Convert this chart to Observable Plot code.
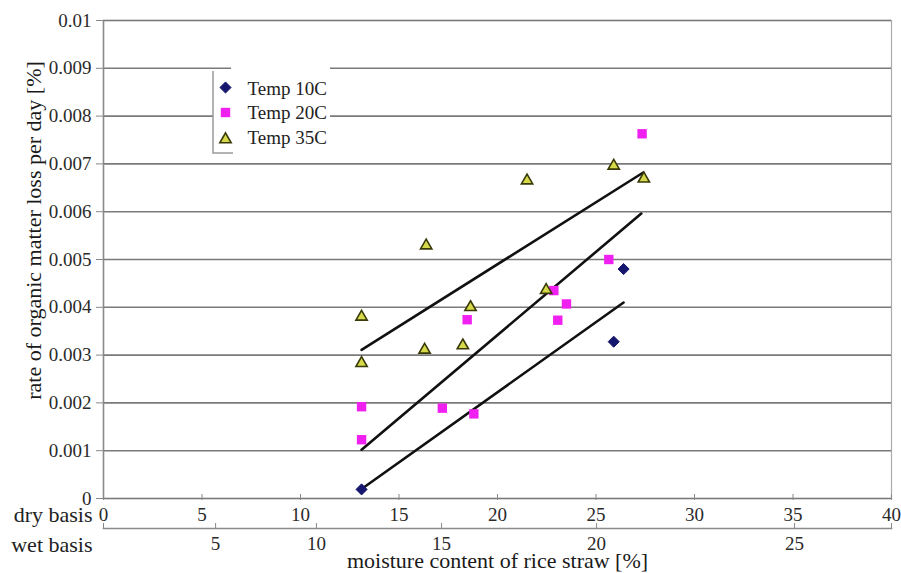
<!DOCTYPE html>
<html><head><meta charset="utf-8">
<script src="https://cdn.jsdelivr.net/npm/d3@7"></script>
<script src="https://cdn.jsdelivr.net/npm/@observablehq/plot@0.6"></script>
<style>
body{margin:0;background:#fff}
#chart{width:901px;height:573px}
#chart svg, #chart svg text{font-family:"Liberation Serif","Tinos","Times New Roman","Times","DejaVu Serif",serif !important;}
</style>
</head><body><div id="chart"></div>
<script>
// ---- data ----
const series = ["Temp 10C", "Temp 20C", "Temp 35C"];

const t10x = [13.1, 25.9, 26.4];
const t10y = [0.00019, 0.00328, 0.0048];

const t20x = [13.1, 13.1, 17.2, 18.8, 18.46, 22.86, 23.5, 23.06, 25.65, 27.34];
const t20y = [0.00192, 0.00123, 0.00189, 0.00177, 0.00374, 0.00435, 0.00407, 0.00373, 0.0050, 0.00763];

const t35x = [13.1, 13.1, 16.38, 16.3, 18.24, 18.63, 22.47, 21.5, 25.9, 27.43];
const t35y = [0.0038, 0.00283, 0.00529, 0.00311, 0.0032, 0.0040, 0.00436, 0.00665, 0.00696, 0.00669];

// fitted trend lines (end points)
const fit10x = [13.1, 26.4], fit10y = [0.0002, 0.0041];
const fit20x = [13.1, 27.3], fit20y = [0.00102, 0.00596];
const fit35x = [13.1, 27.4], fit35y = [0.00311, 0.00682];

const yTicks = [0, 0.001, 0.002, 0.003, 0.004, 0.005, 0.006, 0.007, 0.008, 0.009, 0.01];
const dryTicks = [0, 5, 10, 15, 20, 25, 30, 35, 40];
const wetTickLabels = ["5", "10", "15", "20", "25"];
const wetTickPos = [5.69, 10.81, 17.16, 25.03, 35.08]; // position on dry-basis scale

const yTitle = "rate of organic matter loss per day [%]";
const xTitle = "moisture content of rice straw [%]";
const dryLabel = "dry basis";
const wetLabel = "wet basis";

// ---- build tables ----
const pts = (xs, ys, s) => xs.map((x, i) => ({x, y: ys[i], s}));
const p10 = pts(t10x, t10y, series[0]);
const p20 = pts(t20x, t20y, series[1]);
const p35 = pts(t35x, t35y, series[2]);
const fits = [...pts(fit10x, fit10y, series[0]), ...pts(fit20x, fit20y, series[1]), ...pts(fit35x, fit35y, series[2])];
const wetMap = new Map(wetTickPos.map((p, i) => [p, wetTickLabels[i]]));

const styles = [
  {symbol: "diamond2", r: 5, fill: "#16166e", stroke: "#16166e", strokeWidth: 1},
  {symbol: "square", r: 5.3, fill: "#f020f0", stroke: "none", strokeWidth: 0},
  {symbol: "triangle", r: 4.2, fill: "#d6da4a", stroke: "#3a3a08", strokeWidth: 1.6}
];

const font = "Liberation Serif, Tinos, Times New Roman, DejaVu Serif, serif";
const gridColor = "#7a7a7a";

const legendBox = (index, scales, values, dims) => {
  const g = d3.create("svg:g");
  const x0 = dims.marginLeft, y0 = dims.marginTop;
  g.append("rect").attr("x", x0 + 128).attr("y", y0 + 40).attr("width", 99).attr("height", 96).attr("fill", "#fff");
  g.append("rect").attr("x", x0 + 110).attr("y", y0 + 51).attr("width", 25).attr("height", 85).attr("fill", "#fff");
  g.append("path").attr("d", `M${x0 + 110},${y0 + 51}V${y0 + 133}H${x0 + 130}`)
    .attr("fill", "none").attr("stroke", "#9a9a9a").attr("stroke-width", 1.5);
  return g.node();
};

const legendMarks = series.flatMap((s, i) => [
  Plot.dot([s], {frameAnchor: "top-left", dx: 122, dy: 67 + 25 * i + (i === 2 ? 2 : 0), ...styles[i]}),
  Plot.text([s], {frameAnchor: "top-left", dx: 144, dy: 68 + 24.5 * i, textAnchor: "start", lineAnchor: "middle", fontSize: 19, fontFamily: font, fill: "#222"})
]);

const chart = Plot.plot({
  width: 901,
  height: 573,
  marginTop: 20,
  marginBottom: 75,
  marginLeft: 103,
  marginRight: 10,
  style: {fontFamily: font, fontSize: "19px", background: "#fff", color: "#2a2a2a"},
  x: {domain: [0, 40], label: null},
  y: {domain: [0, 0.01], label: null},
  marks: [
    Plot.frame({stroke: "#aaa", strokeWidth: 1.2}),
    Plot.ruleY(yTicks, {stroke: gridColor, strokeWidth: 1.6}),
    Plot.ruleX([0], {stroke: "#8a8a8a", strokeWidth: 1.5}),
    Plot.axisY({ticks: yTicks, tickFormat: d => d3.format(".3~f")(d), tickSize: 7, tickPadding: 5, stroke: "#888", fontSize: 19, fontFamily: font, label: null}),
    Plot.axisX({ticks: dryTicks, tickSize: 6, tickPadding: 7, dy: -4, stroke: "#888", fontSize: 19, fontFamily: font, label: null}),
    Plot.frame({anchor: "bottom", dy: 30, stroke: "#8a8a8a", strokeWidth: 1.6}),
    Plot.axisX({ticks: wetTickPos, tickFormat: d => wetMap.get(d), tickSize: 5, tickPadding: 8, dy: 25, stroke: "#888", fontSize: 19, fontFamily: font, label: null}),
    Plot.axisX({ticks: [0, 40], tickFormat: () => "", tickSize: 5, dy: 25, stroke: "#888", label: null}),
    Plot.text([dryLabel], {frameAnchor: "bottom-left", textAnchor: "end", lineAnchor: "middle", dx: -11, dy: 16, fontSize: 22, fontFamily: font, fill: "#222"}),
    Plot.text([wetLabel], {frameAnchor: "bottom-left", textAnchor: "end", lineAnchor: "middle", dx: -11, dy: 46, fontSize: 22, fontFamily: font, fill: "#222"}),
    Plot.text([yTitle], {frameAnchor: "left", textAnchor: "middle", lineAnchor: "middle", rotate: -90, dx: -70, dy: -29, fontSize: 22, fontFamily: font, fill: "#1a1a1a"}),
    Plot.text([xTitle], {frameAnchor: "bottom", textAnchor: "middle", lineAnchor: "middle", dy: 62, fontSize: 22, fontFamily: font, fill: "#1a1a1a"}),
    Plot.line(fits, {x: "x", y: "y", z: "s", stroke: "#111", strokeWidth: 2.6}),
    Plot.dot(p10, {x: "x", y: "y", ...styles[0]}),
    Plot.dot(p20, {x: "x", y: "y", ...styles[1]}),
    Plot.dot(p35, {x: "x", y: "y", ...styles[2]}),
    legendBox,
    ...legendMarks
  ]
});
document.getElementById("chart").append(chart);
</script>
</body></html>
